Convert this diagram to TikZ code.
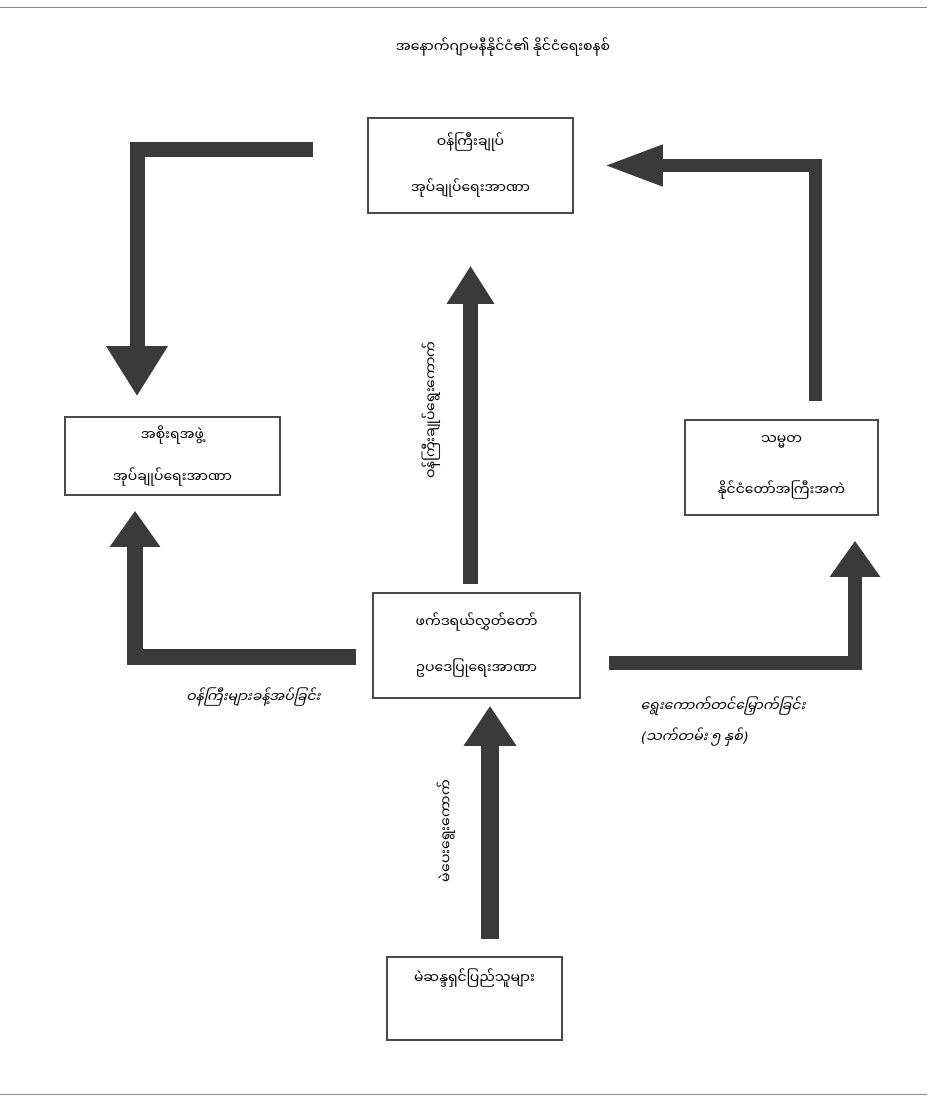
\documentclass[tikz,border=0pt]{standalone}
\usepackage{fontspec}
\usetikzlibrary{arrows.meta,calc}
\newfontfamily\mya[Script=Myanmar]{Noto Sans Myanmar UI}
\newfontfamily\myait[Script=Myanmar,FakeSlant=0.25]{Noto Sans Myanmar UI}
\newfontfamily\parit[FakeSlant=0.2]{DejaVu Sans}
\definecolor{arrowgray}{HTML}{3A3A3A}
\definecolor{boxline}{HTML}{4A4A4A}
\definecolor{rulegray}{HTML}{8A8A8A}
\begin{document}
\begin{tikzpicture}[x=1pt,y=-1pt,
  box/.style={draw=boxline, line width=1.6pt, fill=white, align=center, inner sep=0pt,
    font=\mya\fontsize{14}{46}\selectfont},
  txt/.style={inner sep=0pt, font=\mya\fontsize{14}{16}\selectfont},
  itxt/.style={inner sep=0pt, font=\myait\fontsize{14}{16}\selectfont},
  barrow/.style={draw=arrowgray, line join=miter, line cap=butt}
]
\useasboundingbox (0,0) rectangle (927,1107);
\fill[white] (0,0) rectangle (927,1107);
\draw[rulegray, line width=1pt] (0,8) -- (927,8);
\draw[rulegray, line width=1pt] (0,1094) -- (927,1094);

% title
\node[txt] (title) at (503,47) {အနောက်ဂျာမနီနိုင်ငံ၏ နိုင်ငံရေးစနစ်};

% boxes
\node[box, minimum width=205pt, minimum height=95pt] (tb) at (470.5,165.5)
  {ဝန်ကြီးချုပ်\\အုပ်ချုပ်ရေးအာဏာ};
\node[box, minimum width=215pt, minimum height=78pt] (lb) at (172.5,456)
  {အစိုးရအဖွဲ့\\[-4pt]အုပ်ချုပ်ရေးအာဏာ};
\node[box, minimum width=193pt, minimum height=95pt] (rb) at (781.5,467.5)
  {သမ္မတ\\[5pt]နိုင်ငံတော်အကြီးအကဲ};
\node[box, minimum width=207pt, minimum height=105pt] (cb) at (476.5,645.5)
  {ဖက်ဒရယ်လွှတ်တော်\\ဥပဒေပြုရေးအာဏာ};
\node[box, minimum width=175pt, minimum height=83pt] (bb) at (474.5,998.5) {\phantom{မ}};
\node[txt] (bbt) at (474.5,978) {မဲဆန္ဒရှင်ပြည်သူများ};

% arrows
\coordinate (tlstart) at (313,150);
\draw[barrow, line width=15pt, -{Triangle[width=58pt,length=50pt]}, shorten >=20pt]
  (tlstart) -| ([xshift=-35.5pt]lb.north);
\draw[barrow, line width=13pt, -{Triangle[width=38pt,length=59pt]}, shorten <=18pt, shorten >=30pt]
  ([xshift=33.5pt]rb.north) |- (tb.east);
\draw[barrow, line width=15pt, -{Triangle[width=45pt,length=38pt]}, shorten <=8pt, shorten >=52pt]
  (cb.north -| tb.south) -- (tb.south);
\draw[barrow, line width=16pt, -{Triangle[width=48pt,length=36pt]}, shorten <=16pt, shorten >=15pt]
  ([yshift=-11.5pt]cb.west) -| ([xshift=-37.5pt]lb.south);
\draw[barrow, line width=14pt, -{Triangle[width=48pt,length=36pt]}, shorten <=28pt, shorten >=25pt]
  ([yshift=-17.5pt]cb.east) -| ([xshift=73.5pt]rb.south);
\draw[barrow, line width=18pt, -{Triangle[width=50pt,length=40pt]}, shorten <=17pt, shorten >=7pt]
  ([xshift=15.5pt]bb.north) -- ([xshift=13.5pt]cb.south);

% labels
\node[txt, rotate=90] (lc) at (431,410) {ဝန်ကြီးချုပ်ရွေးကောက်};
\node[txt, rotate=90] (lbt) at (446,831) {မဲပေးရွေးကောက်};
\node[itxt] (ll) at (253,697) {ဝန်ကြီးများခန့်အပ်ခြင်း};
\node[itxt, anchor=west] (rl1) at (640,706) {ရွေးကောက်တင်မြှောက်ခြင်း};
\node[itxt, anchor=west] (rl2) at (640,737) {{\parit(}သက်တမ်း ၅ နှစ်{\parit)}};
\end{tikzpicture}
\end{document}
